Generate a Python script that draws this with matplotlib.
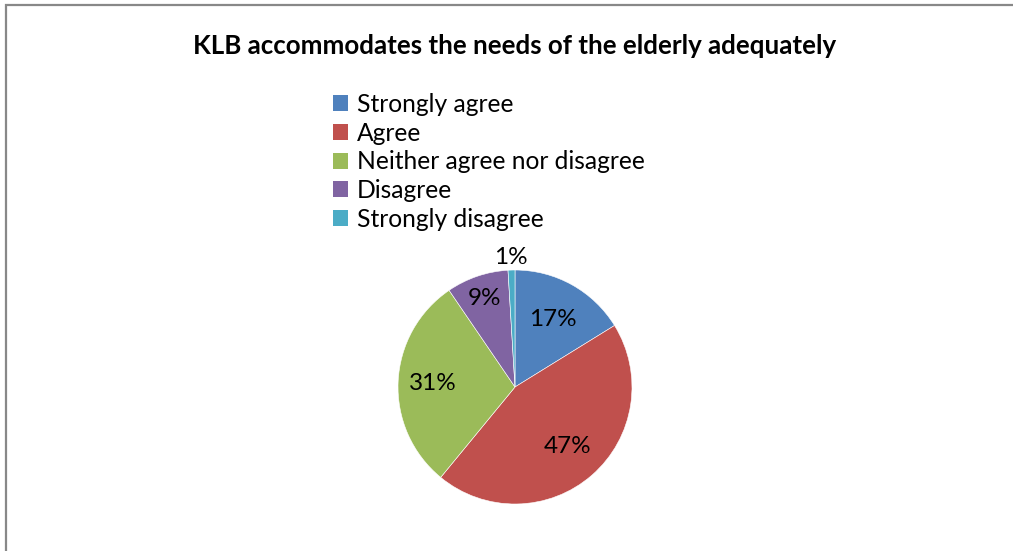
import matplotlib
matplotlib.use("Agg")
import matplotlib.pyplot as plt
import numpy as np
from matplotlib.patches import Rectangle, Patch

title = "KLB accommodates the needs of the elderly adequately"
categories = ["Strongly agree", "Agree", "Neither agree nor disagree",
              "Disagree", "Strongly disagree"]
values = [17, 47, 31, 9, 1]
colors = ["#4F81BD", "#C0504D", "#9BBB59", "#8064A2", "#4BACC6"]
# radial position of each value label, as a fraction of the pie radius
label_radius = [0.66, 0.68, 0.70, 0.80, 1.11]

plt.rcParams["font.family"] = ["Lato", "DejaVu Sans"]

W, H = 1013, 551
fig = plt.figure(figsize=(W / 100, H / 100), dpi=100)
fig.patch.set_facecolor("white")

# outer chart-area border (runs off the right and bottom edges)
fig.add_artist(Rectangle((6 / W, -0.05), 1.2, (H - 5) / H + 0.05,
                         transform=fig.transFigure, fill=False,
                         edgecolor="#888888", linewidth=1.6))

fig.text(515 / W, 1 - 46 / H, title, ha="center", va="center",
         fontsize=18.6, fontweight="bold", color="black")

cx, cy, R = 515, 387, 117
ax = fig.add_axes([(cx - R) / W, (H - cy - R) / H, 2 * R / W, 2 * R / H])
wedges, _ = ax.pie(values, colors=colors, startangle=90, counterclock=False,
                   radius=1.0, wedgeprops=dict(edgecolor="white", linewidth=0.4))
ax.set_xlim(-1, 1)
ax.set_ylim(-1, 1)
ax.set_aspect("equal")
ax.axis("off")

for w, v, r in zip(wedges, values, label_radius):
    ang = np.deg2rad((w.theta1 + w.theta2) / 2)
    ax.text(r * np.cos(ang), r * np.sin(ang), f"{v}%", ha="center",
            va="center", fontsize=17.5, color="black", clip_on=False)

handles = [Patch(facecolor=c, edgecolor="none") for c in colors]
leg = fig.legend(handles, categories, loc="upper left",
                 bbox_to_anchor=(333 / W, 1 - 93 / H), frameon=False,
                 fontsize=17.7, handlelength=0.62, handleheight=0.62,
                 handletextpad=0.35, labelspacing=0.23, borderpad=0,
                 borderaxespad=0)

fig.savefig("out.png", dpi=100, facecolor="white")
